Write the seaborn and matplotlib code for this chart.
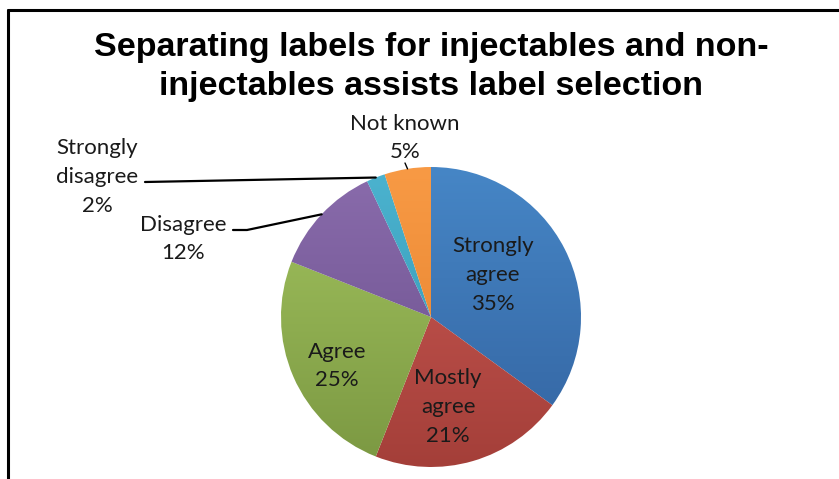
import numpy as np
import matplotlib
matplotlib.use("Agg")
import matplotlib.pyplot as plt
from matplotlib.colors import LinearSegmentedColormap
from matplotlib.lines import Line2D
import seaborn as sns

# Survey responses
categories = ["Strongly agree", "Mostly agree", "Agree", "Disagree",
              "Strongly disagree", "Not known"]
shares = [35, 21, 25, 12, 2, 5]
label_lines = ["Strongly\nagree", "Mostly\nagree", "Agree", "Disagree",
               "Strongly\ndisagree", "Not known"]

# top / bottom shades for each slice gradient
tops = ["#4686c6", "#cc5a55", "#a3c45f", "#8a6cac", "#4cb3cf", "#f89a45"]
bottoms = ["#3363a0", "#a43f39", "#7b9842", "#684d8a", "#2f93b0", "#e27f2a"]

title = "Separating labels for injectables and non-\ninjectables assists label selection"

sns.set_theme(style="white")
plt.rcParams["font.family"] = ["Lato", "DejaVu Sans"]

W, H = 839, 479
fig = plt.figure(figsize=(W / 100, H / 100), dpi=100)
ax = fig.add_axes([0, 0, 1, 1])

cx, cy, R = 431, 317, 150

# y runs downward, so counter-clockwise in data is clockwise on screen
wedges, _ = ax.pie(shares, startangle=-90, counterclock=True, radius=R,
                   center=(cx, cy), frame=True,
                   wedgeprops=dict(linewidth=0))
ax.set_xlim(0, W)
ax.set_ylim(H, 0)
ax.set_aspect("equal")
ax.axis("off")

# vertical gradient fill clipped to each wedge
grad = np.linspace(0, 1, 256).reshape(-1, 1)
for w, t, b in zip(wedges, tops, bottoms):
    w.set_facecolor("none")
    cmap = LinearSegmentedColormap.from_list("g", [t, b])
    im = ax.imshow(grad, cmap=cmap, aspect="auto",
                   extent=(cx - R, cx + R, cy + R, cy - R), zorder=1)
    im.set_clip_path(w)
ax.set_xlim(0, W)
ax.set_ylim(H, 0)
ax.set_aspect("equal")


def edge_point(w):
    mid = np.deg2rad((w.theta1 + w.theta2) / 2)
    return cx + R * np.cos(mid), cy + R * np.sin(mid)


txt_kw = dict(ha="center", va="center", fontsize=16, color="#1a1a1a",
              linespacing=1.55, zorder=5)

# labels inside the slices
inside = {0: (493, 275), 1: (448, 407), 2: (337, 366)}
for i, (x, y) in inside.items():
    ax.text(x, y, f"{label_lines[i]}\n{shares[i]}%", **txt_kw)

# labels outside with leader lines
ax.text(183, 239, f"{label_lines[3]}\n{shares[3]}%", **txt_kw)
ex, ey = edge_point(wedges[3])
ax.plot([233, 247, ex], [230, 230, ey], color="black", lw=1.6, zorder=4)

ax.text(97, 177, f"{label_lines[4]}\n{shares[4]}%", **txt_kw)
ex, ey = edge_point(wedges[4])
ax.plot([145, ex], [182, ey], color="black", lw=1.6, zorder=4)

ax.text(405, 138, f"{label_lines[5]}\n{shares[5]}%", **txt_kw)
ex, ey = edge_point(wedges[5])
ax.plot([405, ex], [163, ey], color="black", lw=1.0, zorder=4)

# title
fig.text(431 / W, 1 - 67 / H, title, ha="center", va="center",
         family="Liberation Sans", weight="bold", fontsize=24.5,
         linespacing=1.34, color="black")

# chart frame edges
fig.add_artist(Line2D([8 / W, 1], [1 - 10 / H, 1 - 10 / H], color="black", lw=2.2))
fig.add_artist(Line2D([8 / W, 8 / W], [0, 1 - 10 / H], color="black", lw=2.2))

fig.savefig("out.png", dpi=100)
